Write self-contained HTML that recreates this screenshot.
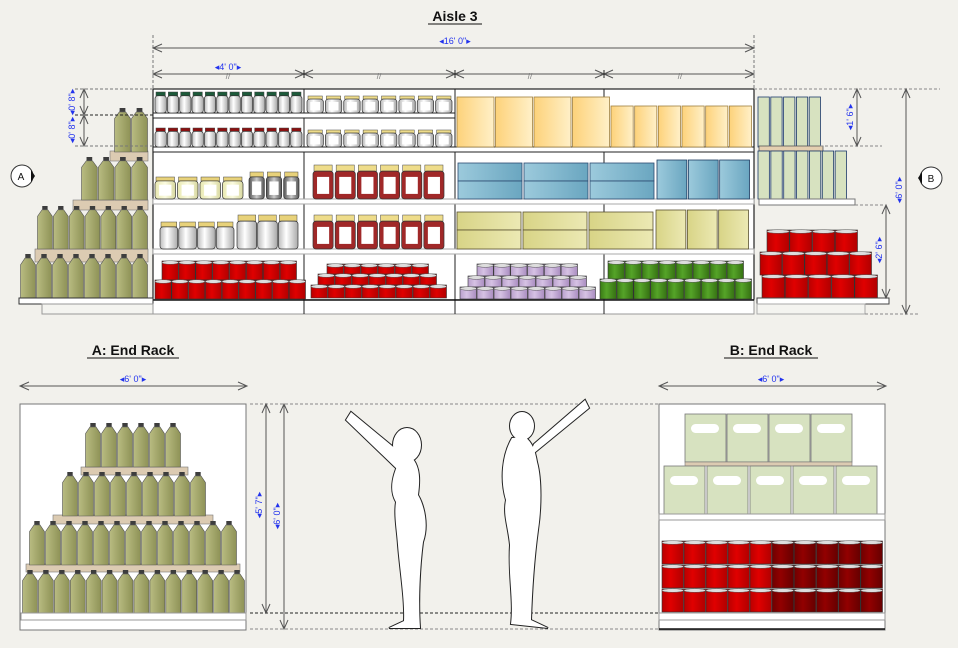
<!DOCTYPE html>
<html><head><meta charset="utf-8">
<style>
html,body{margin:0;padding:0;background:#f2f1ec;}
svg{display:block;font-family:"Liberation Sans",sans-serif;}
</style></head>
<body>
<svg id="s" width="958" height="648" viewBox="0 0 958 648" xmlns="http://www.w3.org/2000/svg">
<defs>
<linearGradient id="gOl" x1="0" x2="1"><stop offset="0" stop-color="#b9bc82"/><stop offset="1" stop-color="#8e9256"/></linearGradient>
<linearGradient id="gRed" x1="0" x2="1"><stop offset="0" stop-color="#b80000"/><stop offset=".4" stop-color="#e00000"/><stop offset="1" stop-color="#b00000"/></linearGradient>
<linearGradient id="gDRed" x1="0" x2="1"><stop offset="0" stop-color="#6e0000"/><stop offset=".4" stop-color="#920000"/><stop offset="1" stop-color="#650000"/></linearGradient>
<linearGradient id="gGrn" x1="0" x2="1"><stop offset="0" stop-color="#3a7a14"/><stop offset=".4" stop-color="#55a428"/><stop offset="1" stop-color="#357012"/></linearGradient>
<linearGradient id="gPur" x1="0" x2="1"><stop offset="0" stop-color="#b9a0cc"/><stop offset=".4" stop-color="#d6c2e4"/><stop offset="1" stop-color="#a98cc0"/></linearGradient>
<linearGradient id="gOr" x1="0" x2="1"><stop offset="0" stop-color="#fdd27a"/><stop offset="1" stop-color="#fff0c8"/></linearGradient>
<linearGradient id="gBl" x1="0" x2="1"><stop offset="0" stop-color="#9ccadc"/><stop offset="1" stop-color="#6aa6c0"/></linearGradient>
<linearGradient id="gYe" x1="0" x2="1"><stop offset="0" stop-color="#d8d486"/><stop offset="1" stop-color="#ece9b4"/></linearGradient>
<linearGradient id="gJar" x1="0" x2="1"><stop offset="0" stop-color="#bbb"/><stop offset=".4" stop-color="#fff"/><stop offset="1" stop-color="#aaa"/></linearGradient>
<linearGradient id="gCream" x1="0" x2="1"><stop offset="0" stop-color="#e8e8b0"/><stop offset=".5" stop-color="#fbfbe0"/><stop offset="1" stop-color="#d8d8a0"/></linearGradient>
<linearGradient id="gGray" x1="0" x2="1"><stop offset="0" stop-color="#555"/><stop offset=".5" stop-color="#ccc"/><stop offset="1" stop-color="#555"/></linearGradient>
</defs>
<g id="root"></g>
</svg>
<script>
var out=[];
function A(s){out.push(s);}
function R(x,y,w,h,f,st,sw){A('<rect x="'+x+'" y="'+y+'" width="'+w+'" height="'+h+'" fill="'+f+'" stroke="'+(st||'none')+'" stroke-width="'+(sw||1)+'"/>');}
function L(x1,y1,x2,y2,c,w,d){A('<line x1="'+x1+'" y1="'+y1+'" x2="'+x2+'" y2="'+y2+'" stroke="'+(c||'#555')+'" stroke-width="'+(w||1)+'"'+(d?' stroke-dasharray="'+d+'"':'')+'/>');}
function T(x,y,t,sz,c,extra){A('<text x="'+x+'" y="'+y+'" font-size="'+sz+'" fill="'+c+'" text-anchor="middle" '+(extra||'')+'>'+t+'</text>');}
function hdim(x1,x2,y,lab,lx){L(x1,y,x2,y,'#555',1);A('<path d="M'+(x1+9)+','+(y-4)+' L'+x1+','+y+' L'+(x1+9)+','+(y+4)+' M'+(x2-9)+','+(y-4)+' L'+x2+','+y+' L'+(x2-9)+','+(y+4)+'" fill="none" stroke="#555"/>');
 if(lab)T(lx||(x1+x2)/2,y-4,lab,9,'#2233ee');}
function vdim(x,y1,y2,lab,ly){L(x,y1,x,y2,'#555',1);A('<path d="M'+(x-4)+','+(y1+9)+' L'+x+','+y1+' L'+(x+4)+','+(y1+9)+' M'+(x-4)+','+(y2-9)+' L'+x+','+y2+' L'+(x+4)+','+(y2-9)+'" fill="none" stroke="#555"/>');
 if(lab){var yy=ly||(y1+y2)/2;A('<text x="'+(x-4)+'" y="'+yy+'" font-size="9" fill="#2233ee" text-anchor="middle" transform="rotate(-90 '+(x-4)+' '+yy+')">'+lab+'</text>');}}
function can(x,y,w,h,g){R(x,y,w,h,'url(#'+g+')','#333',0.6);A('<ellipse cx="'+(x+w/2)+'" cy="'+(y+1.5)+'" rx="'+(w/2)+'" ry="1.8" fill="#ddd" stroke="#555" stroke-width=".5"/>');}
function cans(x0,x1,y,h,n,g){var w=(x1-x0)/n;for(var i=0;i<n;i++)can(x0+i*w,y,w-0.5,h,g);}
function jar(x,y,w,h,lid,body,lab){R(x+1,y,w-2,h*0.18,lid,'#444',0.5);A('<rect x="'+x+'" y="'+(y+h*0.18)+'" width="'+w+'" height="'+(h*0.82)+'" rx="'+Math.min(3,w/4)+'" fill="'+body+'" stroke="#333" stroke-width=".7"/>');
 if(lab)R(x+w*0.2,y+h*0.35,w*0.6,h*0.5,lab,'none');}
function jars(x0,x1,y,h,n,lid,body,lab,gap){var w=(x1-x0)/n;for(var i=0;i<n;i++)jar(x0+i*w,y,w-(gap||1),h,lid,body,lab);}
function bottle(x,y,w,h){A('<rect x="'+(x+w*0.32)+'" y="'+y+'" width="'+(w*0.36)+'" height="'+(h*0.09)+'" fill="#3d3d3d"/>');
 A('<path d="M'+(x+w*0.3)+','+(y+h*0.09)+' L'+(x+w*0.7)+','+(y+h*0.09)+' L'+(x+w)+','+(y+h*0.24)+' L'+(x+w)+','+(y+h)+' L'+x+','+(y+h)+' L'+x+','+(y+h*0.24)+' Z" fill="url(#gOl)" stroke="#555" stroke-width=".6"/>');}
function bottles(x0,x1,y,h,n){var w=(x1-x0)/n;for(var i=0;i<n;i++)bottle(x0+i*w+0.5,y,w-1,h);}
function box(x,y,w,h,f,st){R(x,y,w,h,f,st||'#666',0.8);}
function boxes(x0,x1,y,h,n,f,st){var w=(x1-x0)/n;for(var i=0;i<n;i++)box(x0+i*w,y,w-1.5,h,f,st);}

A('<text x="455" y="21" font-size="14" font-weight="bold" fill="#111" text-anchor="middle">Aisle 3</text>');
L(455-27,24,455+27,24,'#111',1);
L(153,35,153,89,'#777',1,'3,2');L(754,35,754,89,'#777',1,'3,2');
hdim(153,754,48,'◂16\' 0"▸',455);
hdim(153,754,74,'◂4\' 0"▸',228);
[304,455,604].forEach(function(x){A('<path d="M'+(x-9)+',70 L'+(x+9)+',78 M'+(x-9)+',78 L'+(x+9)+',70" stroke="#555" fill="none"/>');L(x,70,x,78,'#222',1);});
[228,379,530,680].forEach(function(x){T(x,79,'//',8,'#777');});

R(153,89,601,211,'#fff','#222',1.2);
R(153,300,601,14,'#fff','#999',1);
[304,455,604].forEach(function(x){L(x,89,x,314,'#222',1);});
R(153,113,302,5,'#fff','#222',1);
R(153,147,601,5,'#fff','#222',1);
R(153,199,601,5,'#fff','#aaa',1);
R(153,249,601,5,'#fff','#aaa',1);
L(153,300,754,300,'#111',1.5);
jars(155,303,92,21,12,'#1c5a3a','url(#gJar)');
jars(155,303,128,19,12,'#8a1010','url(#gJar)');
jars(155,245,177,22,4,'#e8d27a','url(#gCream)','#fff',2);
jars(249,301,172,27,3,'#e8d27a','url(#gGray)','#fff',2);
jars(160,235,222,27,4,'#e8d27a','url(#gJar)');
jars(237,299,215,34,3,'#e8d27a','url(#gJar)');
cans(162,297,261,19,8,'gRed');cans(155,306,280,19,9,'gRed');
jars(307,454,96,17,8,'#eedc8a','url(#gJar)','#fff',2);
jars(307,454,130,17,8,'#eedc8a','url(#gJar)','#fff',2);
jars(313,446,165,34,6,'#eedc8a','#a02828','#fff',2);
jars(313,446,215,34,6,'#eedc8a','#a02828','#fff',2);
cans(327,429,264,11,6,'gRed');cans(318,437,274,11,7,'gRed');cans(311,447,285,13,8,'gRed');
boxes(457,611,97,50,4,'url(#gOr)','#a08040');
boxes(611,753,106,41,6,'url(#gOr)','#a08040');
for(var i=0;i<3;i++){var bx=458+i*66;box(bx,163,64,18,'url(#gBl)','#2c4a70');box(bx,181,64,18,'url(#gBl)','#2c4a70');}
boxes(657,751,160,39,3,'url(#gBl)','#1c3a60');
for(var i=0;i<3;i++){var bx=457+i*66;box(bx,212,64,18,'url(#gYe)','#5a5230');box(bx,230,64,19,'url(#gYe)','#5a5230');}
boxes(656,750,210,39,3,'url(#gYe)','#5a5230');
cans(477,578,264,12,6,'gPur');cans(468,587,276,11,7,'gPur');cans(460,596,287,12,8,'gPur');
cans(608,744,261,19,8,'gGrn');cans(600,752,279,20,9,'gGrn');

R(35,249,113,13,'#dccbb2','#777',0.6);R(73,200,75,10,'#dccbb2','#777',0.6);R(110,151,38,10,'#dccbb2','#777',0.6);
bottles(114,148,108,44,2);bottles(81,148,157,43,4);bottles(37,148,206,43,7);bottles(20,148,254,45,8);
R(19,298,134,6,'#fff','#333',1);R(42,304,111,10,'#f4f4f0','#999',1);
L(75,89,153,89,'#777',1,'3,2');L(75,115,153,115,'#222',1,'3,2');L(75,146,153,146,'#777',1,'3,2');
vdim(84,89,115);vdim(84,115,146);
A('<text x="75" y="102" font-size="9" fill="#2233ee" text-anchor="middle" transform="rotate(-90 75 102)">◂0\' 8"▸</text>');
A('<text x="75" y="130" font-size="9" fill="#2233ee" text-anchor="middle" transform="rotate(-90 75 130)">◂0\' 8"▸</text>');
A('<circle cx="22" cy="176" r="11" fill="#fff" stroke="#333"/><path d="M31,170 L35,176 L31,182" fill="#111"/>');T(21,180,'A',10,'#111');

boxes(758,822,97,50,5,'#d7e2c0','#1c3a6a');
R(759,146,64,5,'#e4cfb0','#555',0.8);
boxes(758,848,151,48,7,'#d7e2c0','#1c3a6a');
R(759,199,96,6,'#fff','#777',1);
cans(767,858,230,22,4,'gRed');cans(760,872,252,23,5,'gRed');cans(762,878,275,23,5,'gRed');
R(757,298,132,6,'#fff','#444',1);R(757,304,108,10,'#f4f4f0','#aaa',1);
L(754,89,940,89,'#888',1,'3,2');L(865,314,918,314,'#888',1,'3,2');L(820,146,882,146,'#888',1,'3,2');L(855,205,885,205,'#888',1,'3,2');
vdim(857,89,146,'◂1\' 6"▸',117);vdim(886,205,298,'◂2\' 6"▸',250);vdim(906,89,314,'◂6\' 0"▸',190);
A('<circle cx="931" cy="178" r="11" fill="#fff" stroke="#333"/><path d="M922,172 L918,178 L922,184" fill="#111"/>');T(931,182,'B',10,'#111');

A('<text x="133" y="355" font-size="14" font-weight="bold" fill="#111" text-anchor="middle">A: End Rack</text>');L(87,358,179,358,'#111',1);
A('<text x="771" y="355" font-size="14" font-weight="bold" fill="#111" text-anchor="middle">B: End Rack</text>');L(724,358,818,358,'#111',1);
hdim(20,247,386,'◂6\' 0"▸',133);hdim(659,886,386,'◂6\' 0"▸',771);

R(20,404,226,226,'#fff','#777',1);
R(81,467,107,8,'#dccbb2','#777',0.6);R(53,515,160,9,'#dccbb2','#777',0.6);R(26,564,214,8,'#dccbb2','#777',0.6);
bottles(85,181,423,44,6);bottles(62,206,472,44,9);bottles(29,237,521,44,13);bottles(22,245,570,44,14);
R(21,613,225,7,'#fff','#999',1);
L(250,404,660,404,'#888',1,'3,2');L(250,613,660,613,'#222',1,'3,2');L(250,629,660,629,'#888',1,'3,2');
vdim(266,404,613,'◂5\' 7"▸',505);vdim(284,404,629,'◂6\' 0"▸',516);

R(659,404,226,226,'#fff','#777',1);
for(var i=0;i<4;i++){var bx=685+i*42;box(bx,414,41,48,'#d7e2c0','#777');A('<rect x="'+(bx+6)+'" y="424" width="28" height="9" rx="4.5" fill="#fff"/>');}
R(685,462,167,4,'#dccbb2','#777',0.6);
for(var i=0;i<5;i++){var bx=664+i*43;box(bx,466,41,48,'#d7e2c0','#777');A('<rect x="'+(bx+6)+'" y="476" width="28" height="9" rx="4.5" fill="#fff"/>');}
R(659,514,226,6,'#fff','#999',1);
for(var r=0;r<3;r++){cans(662,772,541+r*24,23,5,'gRed');cans(772,883,541+r*24,23,5,'gDRed');}
R(659,613,226,7,'#fff','#999',1);L(659,629,885,629,'#111',1.5);

var woman='<ellipse cx="407" cy="445" rx="14" ry="17"/><polygon points="346,420 351,412 403,455 398,470"/><path d="M401,458 C392,475 389,490 396,502 C394,515 397,530 398,545 C400,570 405,600 404,621 L389,628 L420,628 C418,600 420,565 423,542 C429,525 424,505 418,495 C420,480 420,468 413,459 Z"/>';
var man='<ellipse cx="522" cy="426" rx="12" ry="14"/><polygon points="528,458 534,444 585,400 589,408"/><path d="M512,438 C502,455 500,480 506,500 C503,515 508,525 510,545 C508,575 514,600 511,624 L548,628 L531,620 C532,590 534,560 538,530 C541,510 542,480 537,462 C535,450 532,442 525,437 Z"/>';
A('<g fill="#fff" stroke="#222" stroke-width="2">'+woman+man+'</g>');
A('<g fill="#fff" stroke="none">'+woman+man+'</g>');

document.getElementById('root').innerHTML=out.join('');
</script>
</body></html>
